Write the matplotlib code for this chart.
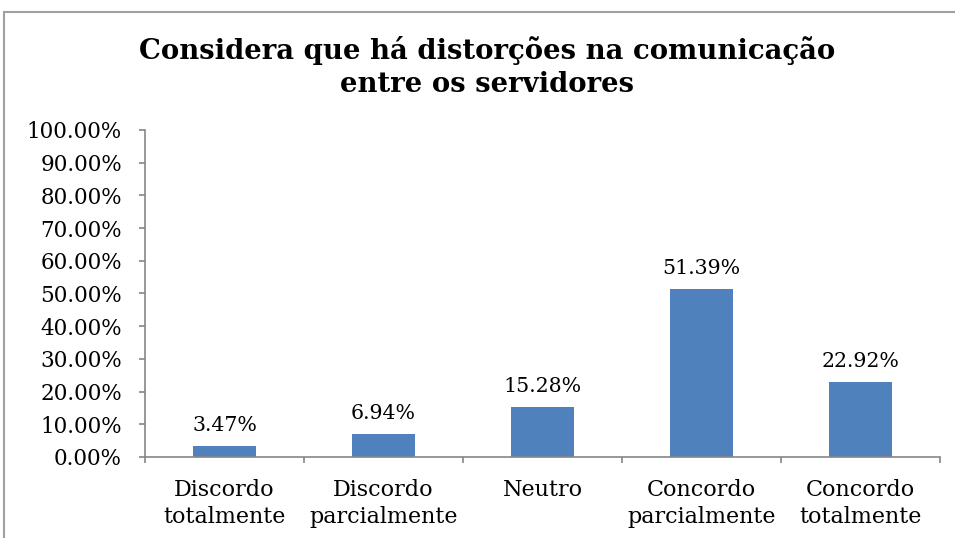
import matplotlib
matplotlib.use("Agg")
import matplotlib.pyplot as plt
from matplotlib.ticker import FixedLocator, PercentFormatter

categories = ["Discordo\ntotalmente", "Discordo\nparcialmente", "Neutro",
              "Concordo\nparcialmente", "Concordo\ntotalmente"]
shares = [3.47, 6.94, 15.28, 51.39, 22.92]
title = "Considera que há distorções na comunicação\nentre os servidores"

BAR_COLOR = "#4F81BD"
AXIS_COLOR = "#868686"
FONT = "DejaVu Serif"

fig = plt.figure(figsize=(9.55, 5.38), dpi=100)
ax = fig.add_axes([0.1518, 0.1506, 0.8325, 0.6078])

x = range(len(categories))
bars = ax.bar(x, shares, width=0.4, color=BAR_COLOR)
for rect, v in zip(bars, shares):
    ax.annotate(f"{v:.2f}%", (rect.get_x() + rect.get_width() / 2, v),
                xytext=(0, 8), textcoords="offset points",
                ha="center", va="bottom", fontsize=14.8, family=FONT)

ax.set_xlim(-0.5, len(categories) - 0.5)
ax.set_ylim(0, 100)
ax.yaxis.set_major_locator(FixedLocator(range(0, 101, 10)))
ax.yaxis.set_major_formatter(PercentFormatter(decimals=2))

# category labels sit between the boundary tick marks
ax.set_xticks(list(x))
ax.set_xticklabels(categories, fontsize=16, family=FONT, linespacing=1.3)
ax.set_xticks([i - 0.5 for i in range(len(categories) + 1)], minor=True)
ax.tick_params(axis="x", which="major", length=0, pad=16)
ax.tick_params(axis="x", which="minor", length=4.5, color=AXIS_COLOR, width=1.2)
ax.tick_params(axis="y", length=4.5, color=AXIS_COLOR, width=1.2, pad=12,
               labelsize=15.5)
for lbl in ax.get_yticklabels():
    lbl.set_family(FONT)

for side in ("top", "right"):
    ax.spines[side].set_visible(False)
for side in ("left", "bottom"):
    ax.spines[side].set_color(AXIS_COLOR)
    ax.spines[side].set_linewidth(1.2)

fig.text(0.51, 0.876, title, ha="center", va="center", fontsize=19.8,
         fontweight="bold", family=FONT, linespacing=1.28)

# outer chart frame, running past the right and bottom edges
fig.add_artist(plt.Rectangle((4 / 955, -0.05), 1.2, 1 - 12 / 538 + 0.05,
                             transform=fig.transFigure, fill=False,
                             edgecolor="#A0A0A0", linewidth=1.5))

fig.savefig("out.png", dpi=100)
